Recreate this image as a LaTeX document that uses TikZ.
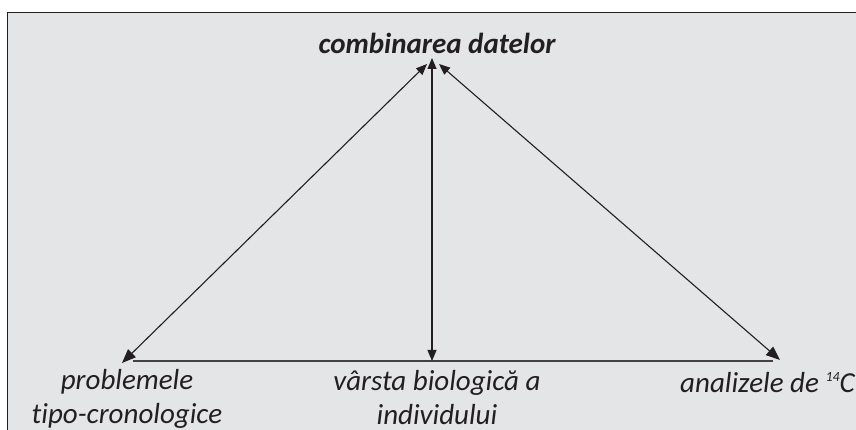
\documentclass[tikz,border=0pt]{standalone}
\usepackage{fontspec}
\setmainfont{Carlito}[Ligatures=NoCommon]
\usetikzlibrary{arrows.meta}
\definecolor{bgray}{HTML}{E4E5E7}
\definecolor{ink}{HTML}{231F20}
\begin{document}
\begin{tikzpicture}[x=1pt,y=1pt,
  lbl/.style={font=\fontsize{29}{34}\selectfont\itshape, text=ink, align=center, inner sep=0pt},
  conn/.style={draw=ink, line width=1.1pt, {Triangle[length=14pt,width=11pt]}-{Triangle[length=11pt,width=9pt]}},
  base/.style={draw=ink!85, line width=1.6pt}]
\useasboundingbox (0,0) rectangle (856,430);
\fill[white] (0,0) rectangle (856,430);
\fill[bgray] (7.5,-10) rectangle (870,417.5);
\draw[ink, line width=1.8pt] (7.5,-10) -- (7.5,417.5) -- (870,417.5);
% nodes
\node[lbl, font=\fontsize{29}{34}\selectfont\bfseries\itshape] (top) at (437,387) {combinarea datelor};
\node[lbl] (prob) at (127,31) {problemele\\tipo-cronologice};
\node[lbl] (varsta) at (437,32) {vârsta biologică a\\individului};
\node[lbl, anchor=west] (anal) at (680,47) {analizele de \raisebox{11pt}{\fontsize{14}{14}\selectfont 14}C};
% anchor coordinates
\coordinate (tl) at (427,366);
\coordinate (tm) at (432,372);
\coordinate (tr) at (439,366);
\coordinate (bl) at (122,67);
\coordinate (bm) at (432,69);
\coordinate (br) at (780,70);
\coordinate (hl) at (133,69);
\coordinate (hr) at (773,69);
% connectors
\draw[base] (hl) -- (hr);
\draw[conn] (bl) -- (tl);
\draw[conn, {Triangle[length=11pt,width=9pt]}-{Triangle[length=11pt,width=9pt]}] (bm) -- (tm);
\draw[conn] (br) -- (tr);
\end{tikzpicture}
\end{document}
